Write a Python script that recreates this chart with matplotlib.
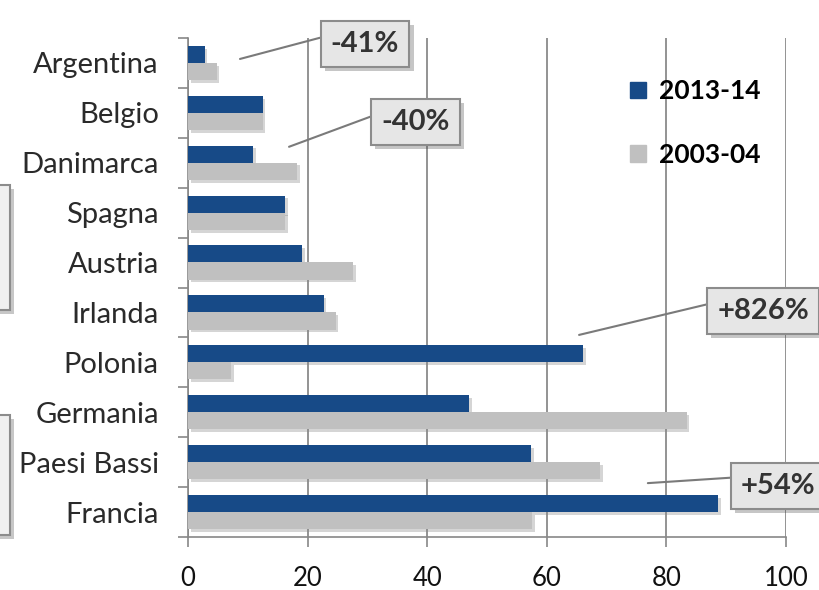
import matplotlib.pyplot as plt
import matplotlib.patheffects as pe
from matplotlib.patches import Rectangle, Patch
import numpy as np

paesi = ['Argentina', 'Belgio', 'Danimarca', 'Spagna', 'Austria',
         'Irlanda', 'Polonia', 'Germania', 'Paesi Bassi', 'Francia']
v_2013 = [2.8, 12.5, 10.9, 16.2, 19.1, 22.7, 66.1, 47.0, 57.4, 88.6]
v_2003 = [4.8, 12.5, 18.2, 16.2, 27.6, 24.7, 7.2, 83.4, 68.9, 57.5]

# etichette di variazione (paese, testo)
note_paese = ['Argentina', 'Danimarca', 'Polonia', 'Francia']
note_testo = ['-41%', '-40%', '+826%', '+54%']

blu = '#174a87'
grigio = '#c0c0c0'
plt.rcParams['font.family'] = ['Lato', 'DejaVu Sans']

fig = plt.figure(figsize=(8.19, 5.9), dpi=100)
ax = fig.add_axes([0.2295, 0.0898, 0.7302, 0.8458])

y = np.arange(len(paesi))
h = 0.345
ombra = [pe.SimplePatchShadow(offset=(2, -2), shadow_rgbFace='#888888', alpha=0.35), pe.Normal()]
b1 = ax.barh(y - 0.17, v_2013, height=h, color=blu, zorder=3)
b2 = ax.barh(y + 0.17, v_2003, height=h, color=grigio, zorder=3)
for r in list(b1) + list(b2):
    r.set_path_effects(ombra)

ax.set_xlim(0, 100)
ax.set_ylim(9.5, -0.5)
ax.set_xticks([0, 20, 40, 60, 80, 100])
ax.set_yticks(y)
ax.set_yticklabels(paesi)
ax.set_yticks(np.arange(-0.5, 10, 1), minor=True)
ax.tick_params(axis='y', which='major', length=0, pad=21, labelsize=21, labelcolor='#2a2a2a')
ax.tick_params(axis='y', which='minor', length=7, width=1.2, color='#888888')
ax.tick_params(axis='x', length=7, width=1.2, color='#888888', pad=14, labelsize=18.5, labelcolor='#111111')
ax.grid(axis='x', color='#8a8a8a', linewidth=1.3, zorder=0)
ax.set_axisbelow(True)
for s in ['top', 'right']:
    ax.spines[s].set_visible(False)
ax.spines['left'].set_color('#888888')
ax.spines['bottom'].set_color('#888888')
ax.spines['left'].set_linewidth(1.2)
ax.spines['bottom'].set_linewidth(1.2)

maniglie = [Patch(color=blu, label='2013-14'), Patch(color=grigio, label='2003-04')]
leg = ax.legend(handles=maniglie, loc='upper left', bbox_to_anchor=(0.7, 0.965), frameon=False,
                prop={'weight': 'bold', 'size': 19}, handlelength=0.6, handleheight=0.6,
                labelspacing=1.5, handletextpad=0.5)

# posizioni delle caselle (testo) e punto di partenza della linea
box_xy = [(29.6, -0.38), (38.0, 1.18), (96.2, 4.97), (98.7, 8.48)]
line_xy = [(8.7, -0.08), (16.9, 1.68), (65.4, 5.45), (76.9, 8.42)]
for p, t, bxy, lxy in zip(note_paese, note_testo, box_xy, line_xy):
    a = ax.annotate(t, xy=lxy, xytext=bxy, ha='center', va='center',
                    fontsize=21, fontweight='bold', color='#333333',
                    bbox=dict(boxstyle='square,pad=0.35', fc='#e6e6e6', ec='#8c8c8c', lw=1.5),
                    arrowprops=dict(arrowstyle='-', color='#7a7a7a', lw=1.5,
                                    relpos=(0, 0.85), shrinkA=0, shrinkB=0),
                    annotation_clip=False, zorder=6)
    a.get_bbox_patch().set_path_effects([pe.SimplePatchShadow(offset=(3, -3), alpha=0.3), pe.Normal()])

# caselle tagliate sul bordo sinistro
for (y0, hh) in [(280 / 590, 125 / 590), (55 / 590, 120 / 590)]:
    r = Rectangle((-0.02, y0), 0.032, hh, transform=fig.transFigure, fc='#f0f0f0',
                  ec='#8c8c8c', lw=1.5)
    r.set_path_effects([pe.SimplePatchShadow(offset=(3, -3), alpha=0.3), pe.Normal()])
    fig.add_artist(r)

fig.savefig('out.png', dpi=100)
